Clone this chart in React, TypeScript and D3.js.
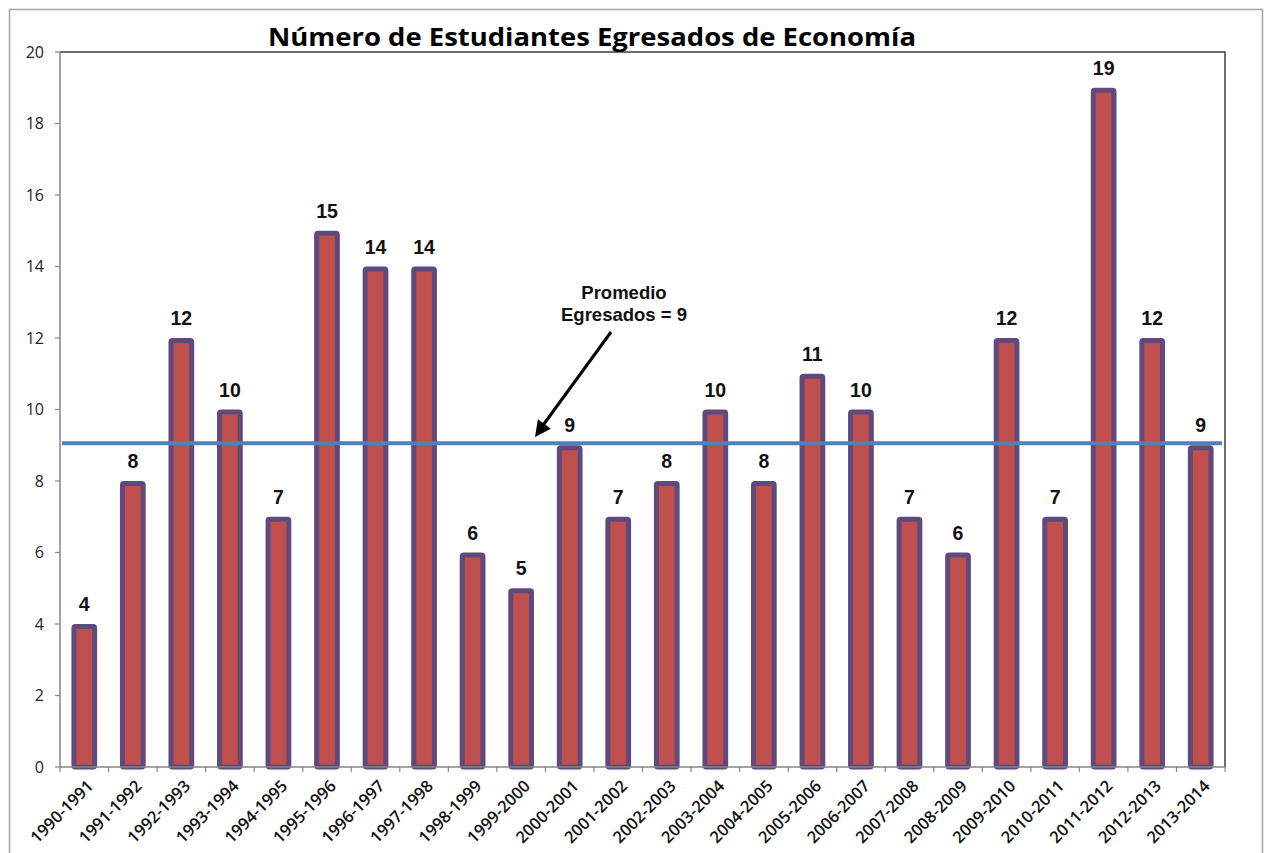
import { useEffect, useRef } from "react"
import * as d3 from "d3"

const periodos = [
  "1990-1991", "1991-1992", "1992-1993", "1993-1994", "1994-1995", "1995-1996",
  "1996-1997", "1997-1998", "1998-1999", "1999-2000", "2000-2001", "2001-2002",
  "2002-2003", "2003-2004", "2004-2005", "2005-2006", "2006-2007", "2007-2008",
  "2008-2009", "2009-2010", "2010-2011", "2011-2012", "2012-2013", "2013-2014",
]
const egresados = [4, 8, 12, 10, 7, 15, 14, 14, 6, 5, 9, 7, 8, 10, 8, 11, 10, 7, 6, 12, 7, 19, 12, 9]
const yTicks = [0, 2, 4, 6, 8, 10, 12, 14, 16, 18, 20]
const promedio = 9

const titulo = "Número de Estudiantes Egresados de Economía"

export default function App() {
  const svgRef = useRef<SVGSVGElement>(null)

  useEffect(() => {
    if (!svgRef.current) return
    const width = 1274
    const height = 853
    const svg = d3.select(svgRef.current).attr("width", width).attr("height", height)
    svg.selectAll("*").remove()

    const margin = { top: 52, right: 49, bottom: 86, left: 60 }
    const x0 = margin.left
    const x1 = width - margin.right
    const y0 = height - margin.bottom
    const y1 = margin.top

    // marco exterior
    svg.append("rect")
      .attr("x", 9.5).attr("y", 9.5)
      .attr("width", 1253).attr("height", 860)
      .attr("fill", "#fff").attr("stroke", "#a6a6a6").attr("stroke-width", 1.5)

    const x = d3.scaleBand<string>().domain(periodos).range([x0, x1]).paddingInner(0.47).paddingOuter(0.235)
    const y = d3.scaleLinear().domain([0, 20]).range([y0, y1])
    const band = (x1 - x0) / periodos.length

    // borde del área de trazado (arriba y derecha)
    svg.append("path")
      .attr("d", `M${x0},${y1}H${x1}V${y0}`)
      .attr("fill", "none").attr("stroke", "#404040").attr("stroke-width", 1.5)

    // eje Y
    svg.append("line")
      .attr("x1", x0).attr("x2", x0).attr("y1", y1).attr("y2", y0)
      .attr("stroke", "#868686").attr("stroke-width", 1.5)
    const yg = svg.append("g")
    yTicks.forEach((t) => {
      yg.append("line")
        .attr("x1", x0 - 5).attr("x2", x0).attr("y1", y(t)).attr("y2", y(t))
        .attr("stroke", "#868686").attr("stroke-width", 1.2)
      yg.append("text")
        .attr("x", x0 - 16).attr("y", y(t)).attr("dy", "0.35em")
        .attr("text-anchor", "end")
        .attr("font-family", "'Open Sans', sans-serif").attr("font-size", 16)
        .attr("fill", "#222")
        .text(t)
    })

    // barras
    const bw = x.bandwidth()
    svg.append("g").selectAll("rect")
      .data(egresados)
      .enter()
      .append("rect")
      .attr("x", (d, i) => x(periodos[i])! + 2.5)
      .attr("y", (d) => y(d) + 2.5)
      .attr("width", bw - 5)
      .attr("height", (d) => y0 - y(d) - 2.5)
      .attr("rx", 1.5)
      .attr("fill", "#c0504d")
      .attr("stroke", "#604a7b")
      .attr("stroke-width", 5)

    // eje X
    svg.append("line")
      .attr("x1", x0).attr("x2", x1).attr("y1", y0).attr("y2", y0)
      .attr("stroke", "#868686").attr("stroke-width", 1.5)
    const xg = svg.append("g")
    d3.range(periodos.length + 1).forEach((i) => {
      xg.append("line")
        .attr("x1", x0 + i * band).attr("x2", x0 + i * band)
        .attr("y1", y0).attr("y2", y0 + 5)
        .attr("stroke", "#868686").attr("stroke-width", 1.2)
    })
    periodos.forEach((p) => {
      const cx = x(p)! + bw / 2 + 6
      xg.append("text")
        .attr("transform", `translate(${cx},${y0 + 16}) rotate(-45)`)
        .attr("text-anchor", "end")
        .attr("dy", "0.35em")
        .attr("font-family", "'Open Sans', sans-serif").attr("font-size", 16.5)
        .attr("font-weight", 600)
        .attr("fill", "#111")
        .text(p)
    })

    // línea de promedio
    svg.append("line")
      .attr("x1", x0 + 2).attr("x2", x1 - 3)
      .attr("y1", y(promedio) - 2).attr("y2", y(promedio) - 2)
      .attr("stroke", "#4f81bd").attr("stroke-width", 4)

    // etiquetas de datos
    svg.append("g").selectAll("text")
      .data(egresados)
      .enter()
      .append("text")
      .attr("x", (d, i) => x(periodos[i])! + bw / 2)
      .attr("y", (d) => y(d) - 13)
      .attr("text-anchor", "middle")
      .attr("font-family", "'Liberation Sans', Arial, sans-serif")
      .attr("font-weight", "bold").attr("font-size", 19.5)
      .attr("fill", "#111")
      .text((d) => d)

    // anotación
    const ann = svg.append("g")
    ann.append("text")
      .attr("x", 624).attr("y", 299)
      .attr("text-anchor", "middle")
      .attr("font-family", "'Liberation Sans', Arial, sans-serif")
      .attr("font-weight", "bold").attr("font-size", 18.5).attr("fill", "#111")
      .text("Promedio")
    ann.append("text")
      .attr("x", 624).attr("y", 321)
      .attr("text-anchor", "middle")
      .attr("font-family", "'Liberation Sans', Arial, sans-serif")
      .attr("font-weight", "bold").attr("font-size", 18.5).attr("fill", "#111")
      .text("Egresados = 9")
    ann.append("line")
      .attr("x1", 611).attr("y1", 332).attr("x2", 541).attr("y2", 428)
      .attr("stroke", "#000").attr("stroke-width", 3)
    const tip = [535, 437]
    const ang = Math.atan2(437 - 332, 535 - 611)
    const L = 16
    const W = 8
    const bx = tip[0] - L * Math.cos(ang)
    const by = tip[1] - L * Math.sin(ang)
    ann.append("path")
      .attr("d", `M${tip[0]},${tip[1]}L${bx + W * Math.sin(ang)},${by - W * Math.cos(ang)}L${bx - W * Math.sin(ang)},${by + W * Math.cos(ang)}Z`)
      .attr("fill", "#000")

    // título
    svg.append("text")
      .attr("x", 592).attr("y", 46)
      .attr("text-anchor", "middle")
      .attr("font-family", "'Open Sans', sans-serif")
      .attr("font-weight", "bold").attr("font-size", 25)
      .attr("textLength", 648).attr("lengthAdjust", "spacingAndGlyphs")
      .attr("fill", "#000")
      .text(titulo)
  }, [])

  return (
    <div style={{ position: "absolute", left: 0, top: 0 }}>
      <svg ref={svgRef} style={{ display: "block" }} />
    </div>
  )
}
